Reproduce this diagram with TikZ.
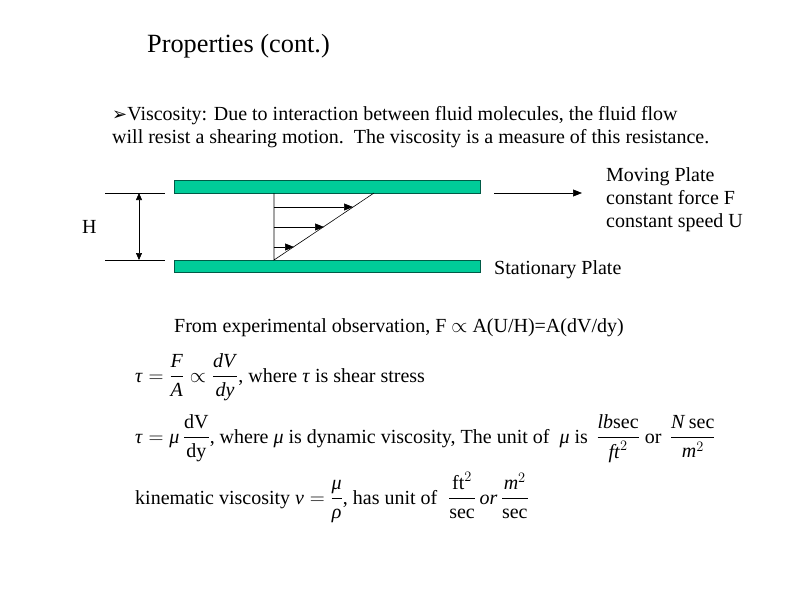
\documentclass[tikz,border=0pt]{standalone}
\usepackage{amsmath}
\usepackage{fontspec}
\setmainfont{Liberation Serif}
\newfontfamily\dejavu{DejaVu Sans}
\usetikzlibrary{arrows.meta}
\definecolor{plate}{RGB}{0,204,153}
\definecolor{plateedge}{RGB}{0,90,70}
\newcommand\iv[1]{\text{\textit{#1}}}
\newcommand\rv[1]{\text{\upshape #1}}
\newcommand\fr[2]{\dfrac{#1}{#2}}
\tikzset{
  txt/.style={anchor=base west, inner sep=0pt, font=\fontsize{20}{24}\selectfont},
  platebox/.style={draw=plateedge, fill=plate, line width=0.6pt},
  thin/.style={draw=black, line width=0.6pt},
  tip/.style={-{Triangle[length=9pt,width=7pt]}}
}
\begin{document}
\begin{tikzpicture}[x=1pt,y=-1pt]
\useasboundingbox (0,0) rectangle (800,600);
\node[txt, font=\fontsize{26.3}{30}\selectfont] (title) at (147,52) {Properties (cont.)};
\node[txt] (l1) at (112,120) {{\dejavu\fontsize{18}{20}\selectfont ➢}Viscosity: Due to interaction between fluid molecules, the fluid flow};
\node[txt] (l2) at (112,143) {will resist a shearing motion.\ \ The viscosity is a measure of this resistance.};
% plates
\node[platebox, minimum width=306pt, minimum height=13pt, inner sep=0pt] (top) at (327,186.5) {};
\node[platebox, minimum width=306pt, minimum height=12pt, inner sep=0pt] (bot) at (327,266) {};
% H dimension
\coordinate (ht1) at (105,193); \coordinate (ht2) at (165,193);
\coordinate (hb1) at (105,260); \coordinate (hb2) at (165,260);
\draw[thin] (ht1) -- (ht2);
\draw[thin] (hb1) -- (hb2);
\coordinate (ha) at (139,193); \coordinate (hb) at (139,260);
\draw[thin, {Triangle[length=7pt,width=6pt]}-{Triangle[length=7pt,width=6pt]}] (ha) -- (hb);
\node[txt] (H) at (82,233) {H};
% profile
\coordinate (p0) at (274,193); \coordinate (p1) at (274,260); \coordinate (p2) at (374,193);
\draw[thin] (p0) -- (p1) -- (p2);
\coordinate (a1s) at (274,207); \coordinate (a1e) at (353,207);
\coordinate (a2s) at (274,227); \coordinate (a2e) at (324,227);
\coordinate (a3s) at (274,247); \coordinate (a3e) at (294,247);
\draw[thin, tip] (a1s) -- (a1e);
\draw[thin, tip] (a2s) -- (a2e);
\draw[thin, tip] (a3s) -- (a3e);
% moving arrow
\coordinate (m1) at (494,193); \coordinate (m2) at (582,193);
\draw[thin, tip] (m1) -- (m2);
\node[txt] (mp) at (606,181) {Moving Plate};
\node[txt] (cf) at (606,204) {constant force F};
\node[txt] (cs) at (606,227) {constant speed U};
\node[txt] (sp) at (494,274) {Stationary Plate};
\node[txt] (exp) at (174,332) {From experimental observation, F $\propto$ A(U/H)=A(dV/dy)};
% equations
\node[txt] (e1) at (135,382) {$\iv{τ}=\fr{\iv{F}}{\iv{A}}\propto\fr{\iv{dV}}{\iv{dy}}$, where \textit{τ} is shear stress};
\node[txt] (e2) at (135,443) {$\iv{τ}=\iv{μ}\,\fr{\rv{dV}}{\rv{dy}}$, where \textit{μ} is dynamic viscosity, The unit of\ \ \textit{μ} is $\,\fr{\iv{lb}\rv{sec}}{\iv{ft}^2}$ or $\,\fr{\iv{N}\,\rv{sec}}{\iv{m}^2}$};
\node[txt] (e3) at (135,504) {kinematic viscosity $\iv{ν}=\fr{\iv{μ}}{\iv{ρ}}$, has unit of $\;\fr{\rv{ft}^2}{\rv{sec}}\,\iv{or}\,\fr{\iv{m}^2}{\rv{sec}}$};
\end{tikzpicture}
\end{document}
